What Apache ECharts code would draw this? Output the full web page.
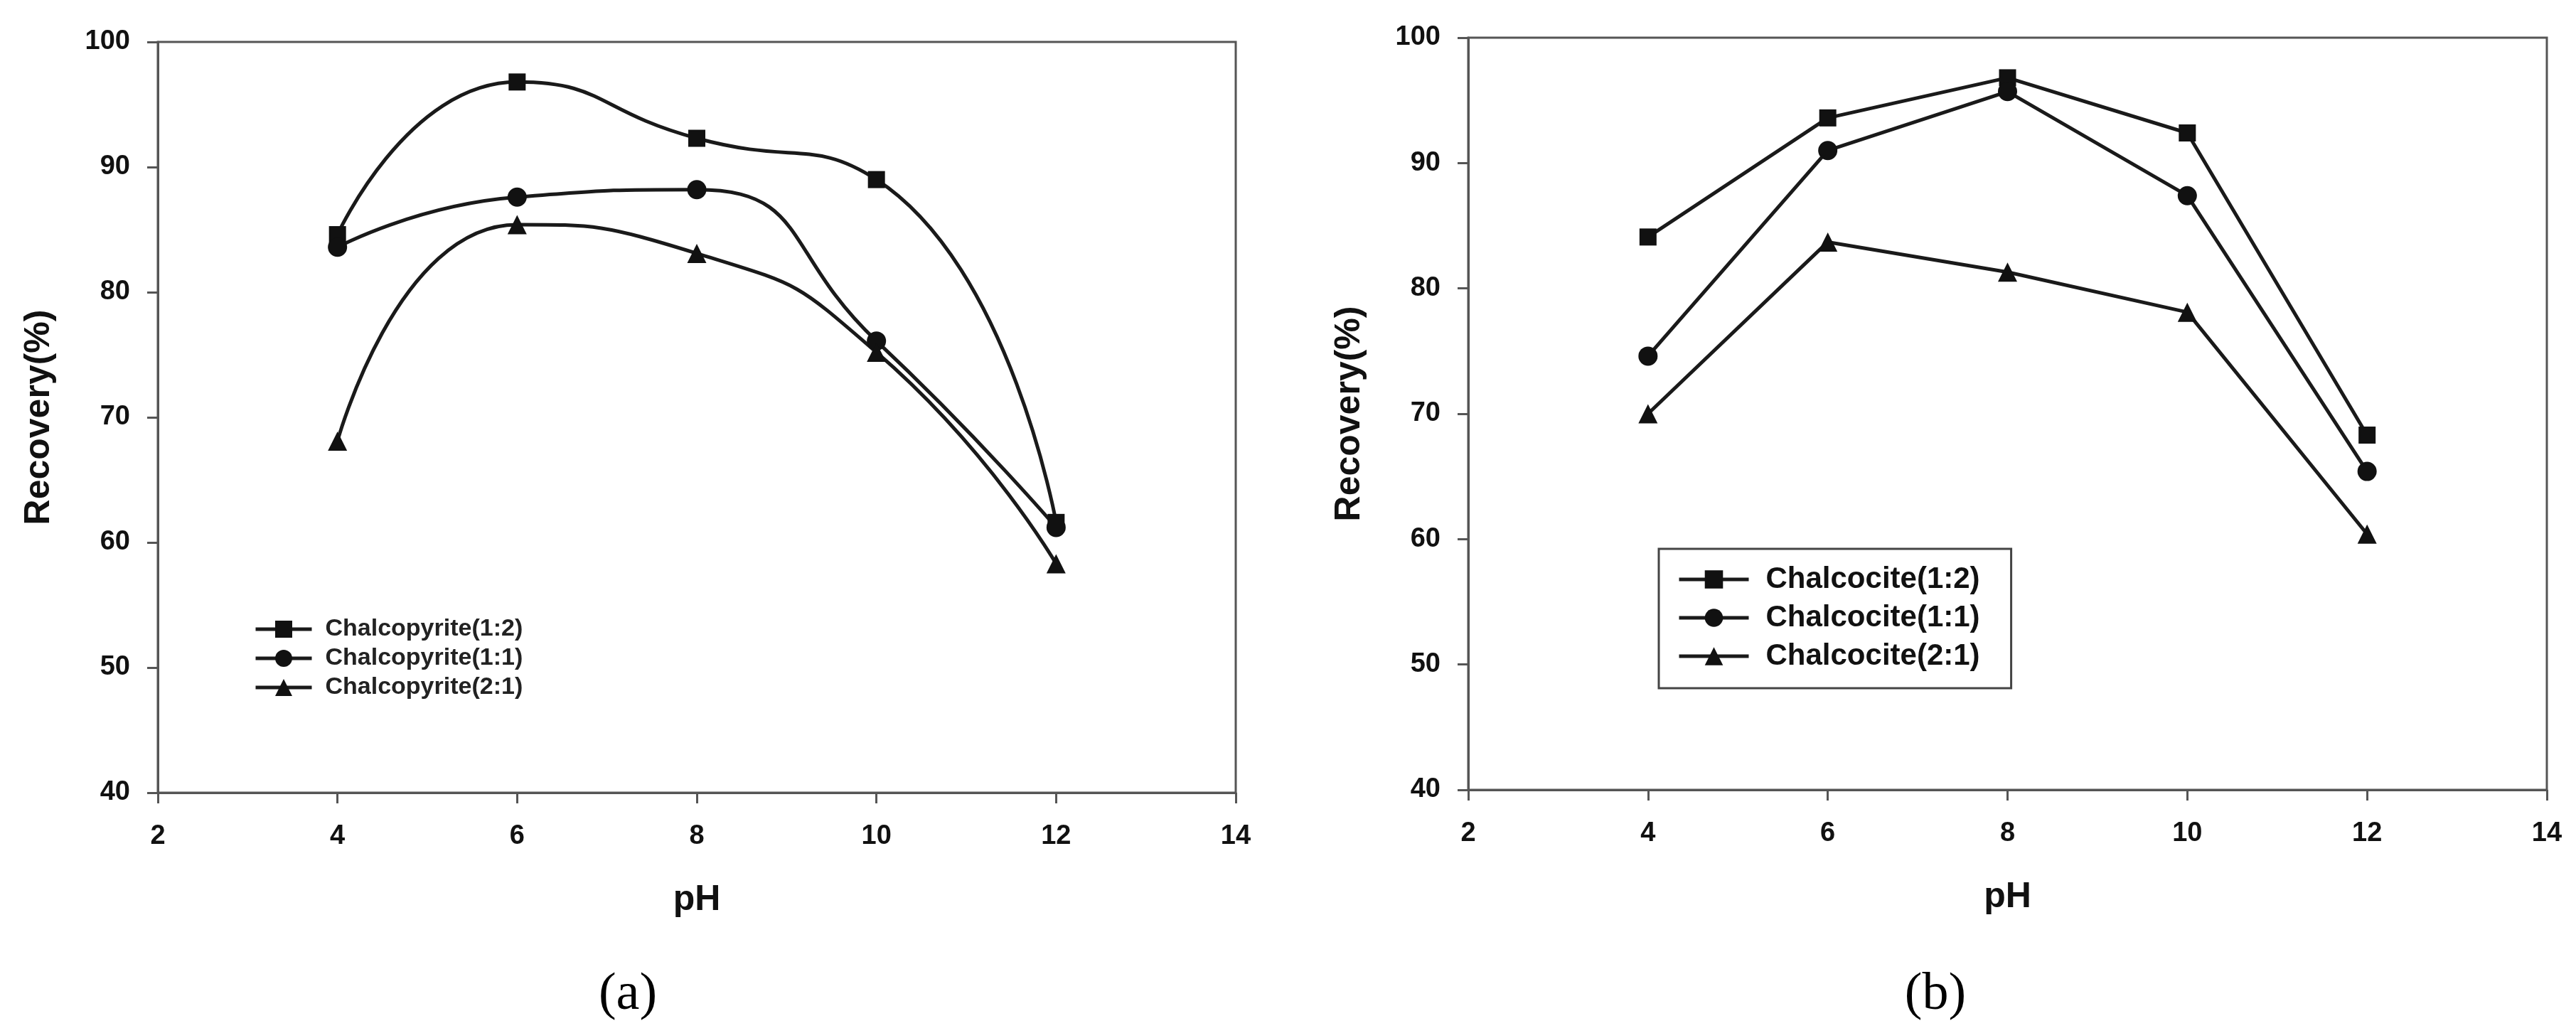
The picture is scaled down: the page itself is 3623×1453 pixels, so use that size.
<!DOCTYPE html>
<html>
<head>
<meta charset="utf-8">
<script src="https://cdn.jsdelivr.net/npm/echarts@6/dist/echarts.min.js"></script>
<style>
  html, body { margin: 0; padding: 0; background: #fff; }
  #main { width: 3623px; height: 1453px; }
</style>
</head>
<body>
<div id="main"></div>
<script>
// pH values on x
var ph = [4, 6, 8, 10, 12];

// (a) chalcopyrite recoveries
var chalcopyrite12 = [84.6, 96.8, 92.3, 89.0, 61.6];
var chalcopyrite11 = [83.6, 87.6, 88.2, 76.1, 61.2];
var chalcopyrite21 = [68.1, 85.4, 83.1, 75.2, 58.3];

// (b) chalcocite recoveries
var chalcocite12 = [84.1, 93.6, 96.8, 92.4, 68.3];
var chalcocite11 = [74.6, 91.0, 95.7, 87.4, 65.4];
var chalcocite21 = [70.0, 83.7, 81.3, 78.1, 60.4];

var names = ['Chalcopyrite(1:2)', 'Chalcopyrite(1:1)', 'Chalcopyrite(2:1)',
             'Chalcocite(1:2)', 'Chalcocite(1:1)', 'Chalcocite(2:1)'];
var panelLabels = ['(a)', '(b)'];

function pairs(ys) {
    return ph.map(function (x, i) { return [x, ys[i]]; });
}

var axisColor = '#555';
var lineColor = '#1a1a1a';
var font = 'Liberation Sans';

function xAxisFor(idx) {
    return {
        gridIndex: idx,
        type: 'value',
        min: 2, max: 14, interval: 2,
        name: 'pH',
        nameLocation: 'middle',
        nameGap: 126,
        nameTextStyle: { fontFamily: font, fontWeight: 'bold', fontSize: 50, color: '#111' },
        axisLine: { onZero: false, lineStyle: { color: axisColor, width: 3 } },
        axisTick: { length: 15, lineStyle: { color: axisColor, width: 3 } },
        axisLabel: { margin: 43, fontFamily: font, fontWeight: 'bold', fontSize: 38, color: '#111' },
        splitLine: { show: false }
    };
}

function yAxisFor(idx) {
    return {
        gridIndex: idx,
        type: 'value',
        min: 40, max: 100, interval: 10,
        name: 'Recovery(%)',
        nameLocation: 'middle',
        nameGap: 142,
        nameTextStyle: { fontFamily: font, fontWeight: 'bold', fontSize: 50, color: '#111' },
        axisLine: { lineStyle: { color: axisColor, width: 3 } },
        axisTick: { length: 15, lineStyle: { color: axisColor, width: 3 } },
        axisLabel: { margin: 39, fontFamily: font, fontWeight: 'bold', fontSize: 38, color: '#111' },
        splitLine: { show: false }
    };
}

function makeSeries(name, ys, idx, symbol, size, smooth) {
    return {
        name: name,
        type: 'line',
        xAxisIndex: idx,
        yAxisIndex: idx,
        data: pairs(ys),
        smooth: smooth,
        symbol: symbol,
        symbolSize: size,
        showAllSymbol: true,
        lineStyle: { color: lineColor, width: 5 },
        itemStyle: { color: '#111', borderWidth: 0 },
        animation: false
    };
}

var myChart = echarts.init(document.getElementById('main'), null, { renderer: 'canvas' });

var option = {
    backgroundColor: '#fff',
    animation: false,
    grid: [
        { left: 222, top: 59, width: 1516, height: 1056, show: true, borderColor: axisColor, borderWidth: 3, backgroundColor: 'transparent' },
        { left: 2065, top: 53, width: 1517, height: 1058, show: true, borderColor: axisColor, borderWidth: 3, backgroundColor: 'transparent' }
    ],
    xAxis: [xAxisFor(0), xAxisFor(1)],
    yAxis: [yAxisFor(0), yAxisFor(1)],
    legend: [
        {
            data: names.slice(0, 3),
            orient: 'vertical',
            left: 357, top: 868,
            padding: 0,
            itemWidth: 79, itemHeight: 30, itemGap: 7,
            lineStyle: { width: 5, color: lineColor },
            textStyle: { fontFamily: font, fontWeight: 'bold', fontSize: 34, color: '#222', padding: [0, 0, 0, 14] }
        },
        {
            data: names.slice(3),
            orient: 'vertical',
            left: 2333, top: 772,
            padding: [22, 44, 24, 26],
            borderColor: '#444', borderWidth: 3,
            itemWidth: 98, itemHeight: 32, itemGap: 12,
            lineStyle: { width: 5, color: lineColor },
            textStyle: { fontFamily: font, fontWeight: 'bold', fontSize: 42, color: '#111', padding: [0, 0, 0, 19] }
        }
    ],
    graphic: [
        { type: 'text', x: 883, y: 1400, style: { text: panelLabels[0], font: '74px "Liberation Serif"', fill: '#000', textAlign: 'center', textVerticalAlign: 'middle' } },
        { type: 'text', x: 2722, y: 1400, style: { text: panelLabels[1], font: '74px "Liberation Serif"', fill: '#000', textAlign: 'center', textVerticalAlign: 'middle' } }
    ],
    series: [
        makeSeries(names[0], chalcopyrite12, 0, 'rect', 24, 0.55),
        makeSeries(names[1], chalcopyrite11, 0, 'circle', 27, 0.55),
        makeSeries(names[2], chalcopyrite21, 0, 'triangle', 27, 0.55),
        makeSeries(names[3], chalcocite12, 1, 'rect', 24, false),
        makeSeries(names[4], chalcocite11, 1, 'circle', 27, false),
        makeSeries(names[5], chalcocite21, 1, 'triangle', 27, false)
    ]
};

myChart.setOption(option);
</script>
</body>
</html>
